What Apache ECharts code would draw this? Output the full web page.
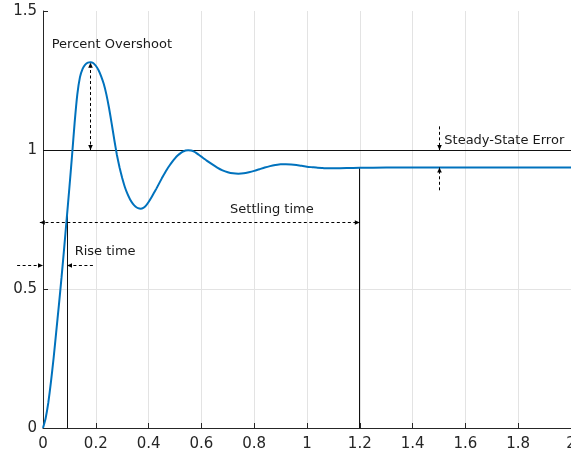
<!DOCTYPE html>
<html>
<head>
<meta charset="utf-8">
<script src="https://cdn.jsdelivr.net/npm/echarts@6/dist/echarts.min.js"></script>
<style>
  html, body { margin: 0; padding: 0; background: #ffffff; }
  #chart { width: 571px; height: 457px; }
</style>
</head>
<body>
<div id="chart"></div>
<script>
// Step response samples: time (s) and output
const timeS = [
  0.00, 0.01, 0.02, 0.03, 0.04, 0.05, 0.06, 0.07, 0.08, 0.09,
  0.10, 0.11, 0.12, 0.13, 0.14, 0.15, 0.16, 0.17, 0.18, 0.19,
  0.20, 0.21, 0.22, 0.23, 0.24, 0.25, 0.26, 0.27, 0.28, 0.29,
  0.30, 0.31, 0.32, 0.33, 0.34, 0.35, 0.36, 0.37, 0.38, 0.39,
  0.40, 0.41, 0.42, 0.43, 0.44, 0.45, 0.46, 0.47, 0.48, 0.49,
  0.50, 0.51, 0.52, 0.53, 0.54, 0.55, 0.56, 0.57, 0.58, 0.59,
  0.60, 0.62, 0.64, 0.66, 0.68, 0.70, 0.72, 0.74, 0.76, 0.78,
  0.80, 0.82, 0.84, 0.86, 0.88, 0.90, 0.92, 0.94, 0.96, 0.98,
  1.00, 1.02, 1.04, 1.06, 1.08, 1.10, 1.15, 1.20, 1.30, 1.40,
  1.50, 1.60, 1.70, 1.80, 1.90, 2.00
];
const response = [
  0.000, 0.035, 0.090, 0.165, 0.250, 0.345, 0.440, 0.540, 0.645, 0.755,
  0.865, 0.980, 1.100, 1.200, 1.262, 1.292, 1.307, 1.314, 1.316, 1.313,
  1.303, 1.288, 1.266, 1.238, 1.200, 1.152, 1.096, 1.037, 0.982, 0.937,
  0.899, 0.867, 0.842, 0.822, 0.807, 0.797, 0.791, 0.789, 0.792, 0.800,
  0.813, 0.828, 0.845, 0.862, 0.880, 0.898, 0.915, 0.931, 0.945, 0.958,
  0.970, 0.980, 0.988, 0.994, 0.998, 0.999, 0.998, 0.995, 0.990, 0.983,
  0.976, 0.962, 0.949, 0.937, 0.927, 0.920, 0.916, 0.915, 0.916, 0.920,
  0.925, 0.931, 0.937, 0.942, 0.946, 0.949, 0.949, 0.948, 0.946, 0.943,
  0.940, 0.938, 0.936, 0.935, 0.934, 0.934, 0.935, 0.936, 0.937, 0.937,
  0.937, 0.937, 0.937, 0.937, 0.937, 0.937
];

// Axis ranges and tick steps
const xRange = [0, 2];
const xStep = 0.2;
const yRange = [0, 1.5];
const yStep = 0.5;

// Solid reference lines in data units: [x1, y1, x2, y2]
const solidSegments = [
  [0, 1, 2, 1],            // unit reference level
  [0.091, 0, 0.091, 0.77], // rise time marker
  [1.2, 0, 1.2, 0.936]     // settling time marker
];

// Dashed arrows in data units: [x1, y1, x2, y2, headAtStart, headAtEnd]
const arrowSegments = [
  [0.18, 1.0, 0.18, 1.314, 1, 1],      // percent overshoot
  [-0.098, 0.584, 0, 0.584, 0, 1],     // rise time, left
  [0.189, 0.584, 0.091, 0.584, 0, 1],  // rise time, right
  [-0.012, 0.739, 1.2, 0.739, 1, 1],   // settling time
  [1.5, 1.085, 1.5, 1.0, 0, 1],        // steady-state error, top
  [1.5, 0.855, 1.5, 0.937, 0, 1]       // steady-state error, bottom
];

// Annotation texts and their anchor points
const noteText = ['Percent Overshoot', 'Rise time', 'Settling time', 'Steady-State Error'];
const noteX = [0.033, 0.12, 0.867, 1.52];
const noteY = [1.379, 0.633, 0.787, 1.032];
const noteAlign = ['left', 'left', 'center', 'left'];

const axisColor = '#262626';
const fontFamily = 'DejaVu Sans';

// Snap a 1px stroke onto the pixel grid so it stays crisp
function crisp(v) { return Math.round(v - 0.5) + 0.5; }

function snapSegment(p1, p2) {
  if (Math.abs(p1[1] - p2[1]) < 0.01) { const y = crisp(p1[1]); return [[p1[0], y], [p2[0], y]]; }
  if (Math.abs(p1[0] - p2[0]) < 0.01) { const x = crisp(p1[0]); return [[x, p1[1]], [x, p2[1]]]; }
  return [p1, p2];
}

function arrowHead(from, tip) {
  const dx = tip[0] - from[0];
  const dy = tip[1] - from[1];
  const len = Math.hypot(dx, dy) || 1;
  const ux = dx / len, uy = dy / len;
  const L = 5, W = 2.3;
  const bx = tip[0] - ux * L, by = tip[1] - uy * L;
  return {
    type: 'polygon',
    shape: { points: [[tip[0], tip[1]], [bx - uy * W, by + ux * W], [bx + uy * W, by - ux * W]] },
    style: { fill: '#000000' }
  };
}

const chart = echarts.init(document.getElementById('chart'), null, { renderer: 'canvas' });

chart.setOption({
  animation: false,
  backgroundColor: '#ffffff',
  grid: { left: 43, right: 0, top: 11, bottom: 29, outerBoundsMode: 'none', containLabel: false },
  xAxis: {
    type: 'value',
    min: xRange[0], max: xRange[1], interval: xStep,
    axisLine: { show: true, onZero: false, lineStyle: { color: axisColor, width: 1 } },
    axisTick: { show: true, inside: true, length: 5, lineStyle: { color: axisColor } },
    axisLabel: { color: axisColor, fontSize: 15, fontFamily: fontFamily, margin: 9 },
    splitLine: { show: true, lineStyle: { color: '#e3e3e3', width: 1 } }
  },
  yAxis: {
    type: 'value',
    min: yRange[0], max: yRange[1], interval: yStep,
    axisLine: { show: true, onZero: false, lineStyle: { color: axisColor, width: 1 } },
    axisTick: { show: true, inside: true, length: 5, lineStyle: { color: axisColor } },
    axisLabel: { color: axisColor, fontSize: 15, fontFamily: fontFamily, margin: 6 },
    splitLine: { show: true, showMaxLine: false, lineStyle: { color: '#e3e3e3', width: 1 } }
  },
  series: [
    {
      type: 'custom',
      name: 'reference',
      clip: false,
      z: 3,
      data: solidSegments,
      renderItem: function (params, api) {
        const s = snapSegment(api.coord([api.value(0), api.value(1)]), api.coord([api.value(2), api.value(3)]));
        return {
          type: 'line',
          shape: { x1: s[0][0], y1: s[0][1], x2: s[1][0], y2: s[1][1] },
          style: { stroke: '#111111', lineWidth: 1 }
        };
      }
    },
    {
      type: 'line',
      name: 'response',
      data: timeS.map((t, i) => [t, response[i]]),
      showSymbol: false,
      smooth: 0.15,
      z: 4,
      lineStyle: { color: '#0072BD', width: 2 }
    },
    {
      type: 'custom',
      name: 'arrows',
      clip: false,
      z: 5,
      data: arrowSegments,
      renderItem: function (params, api) {
        const s = snapSegment(api.coord([api.value(0), api.value(1)]), api.coord([api.value(2), api.value(3)]));
        const p1 = s[0], p2 = s[1];
        const children = [{
          type: 'line',
          shape: { x1: p1[0], y1: p1[1], x2: p2[0], y2: p2[1] },
          style: { stroke: '#000000', lineWidth: 1, lineDash: [3, 2.5] }
        }];
        if (api.value(4)) children.push(arrowHead(p2, p1));
        if (api.value(5)) children.push(arrowHead(p1, p2));
        return { type: 'group', children: children };
      }
    },
    {
      type: 'custom',
      name: 'notes',
      clip: false,
      z: 6,
      data: noteX.map((x, i) => [x, noteY[i]]),
      renderItem: function (params, api) {
        const p = api.coord([api.value(0), api.value(1)]);
        const i = params.dataIndex;
        return {
          type: 'text',
          x: p[0], y: p[1],
          style: {
            text: noteText[i],
            fill: '#1a1a1a',
            font: '13px "DejaVu Sans"',
            align: noteAlign[i],
            verticalAlign: 'middle'
          }
        };
      }
    }
  ]
});
</script>
</body>
</html>
